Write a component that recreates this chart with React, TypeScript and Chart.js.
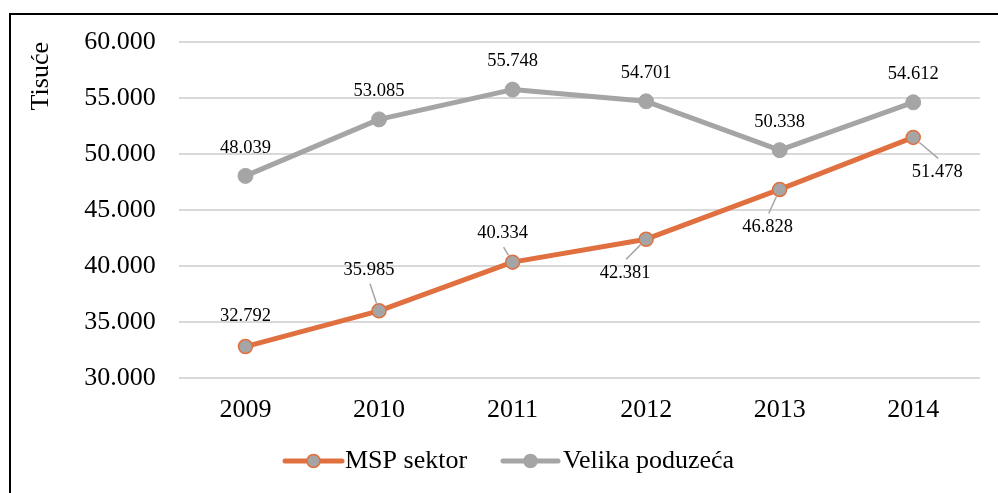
import React, { useEffect, useRef } from "react";
import { Chart, registerables } from "chart.js";

Chart.register(...registerables);

// ---- data ----
const categories = ["2009", "2010", "2011", "2012", "2013", "2014"];
const mspValues = [32792, 35985, 40334, 42381, 46828, 51478];
const velikaValues = [48039, 53085, 55748, 54701, 50338, 54612];
const yTickValues = [30000, 35000, 40000, 45000, 50000, 55000, 60000];
const seriesNames = ["MSP sektor", "Velika poduzeća"];
const axisTitle = "Tisuće";

// ---- label placement (style, not data) ----
// [dx, dy, hasLeader] of label centre relative to its point
const mspLabelPlacement: [number, number, boolean][] = [
  [0, -30, false],
  [-10, -41, true],
  [-10, -29, true],
  [-21, 34, true],
  [-12, 38, true],
  [24, 35, true],
];
const velikaLabelDy = -28;

const ORANGE = "#E0703F";
const GRAY = "#A5A5A5";
const FONT = "'Liberation Serif', 'Times New Roman', serif";

const fmt = (v: number) =>
  String(Math.round(v)).replace(/\B(?=(\d{3})+(?!\d))/g, ".");

const labelPlugin = {
  id: "dataLabelsCustom",
  afterDatasetsDraw(chart: any) {
    const ctx = chart.ctx;
    ctx.save();
    ctx.font = `18.5px ${FONT}`;
    ctx.fillStyle = "#000";
    ctx.textAlign = "center";
    ctx.textBaseline = "middle";
    const m0 = chart.getDatasetMeta(0);
    m0.data.forEach((pt: any, i: number) => {
      const [dx, dy, leader] = mspLabelPlacement[i];
      const lx = pt.x + dx;
      const ly = pt.y + dy;
      if (leader) {
        const sx = lx + 1;
        const sy = ly + (dy < 0 ? 14 : -14);
        const vx = pt.x - sx;
        const vy = pt.y - sy;
        const len = Math.hypot(vx, vy);
        const ex = pt.x - (vx / len) * 8;
        const ey = pt.y - (vy / len) * 8;
        ctx.strokeStyle = GRAY;
        ctx.lineWidth = 1.5;
        ctx.beginPath();
        ctx.moveTo(sx, sy);
        ctx.lineTo(ex, ey);
        ctx.stroke();
      }
      ctx.fillText(fmt(mspValues[i]), lx, ly);
    });
    const m1 = chart.getDatasetMeta(1);
    m1.data.forEach((pt: any, i: number) => {
      ctx.fillText(fmt(velikaValues[i]), pt.x, pt.y + velikaLabelDy);
    });
    ctx.restore();
  },
};

const legendPlugin = {
  id: "legendCustom",
  afterDraw(chart: any) {
    const ctx = chart.ctx;
    ctx.save();
    const y = 461;
    const items = [
      { name: seriesNames[0], x0: 285, x1: 342, line: ORANGE, border: ORANGE, tx: 345 },
      { name: seriesNames[1], x0: 503, x1: 558, line: GRAY, border: GRAY, tx: 563 },
    ];
    items.forEach((it) => {
      ctx.strokeStyle = it.line;
      ctx.lineWidth = 5;
      ctx.lineCap = "round";
      ctx.beginPath();
      ctx.moveTo(it.x0, y);
      ctx.lineTo(it.x1, y);
      ctx.stroke();
      ctx.beginPath();
      ctx.arc((it.x0 + it.x1) / 2, y, 6.5, 0, Math.PI * 2);
      ctx.fillStyle = GRAY;
      ctx.fill();
      ctx.lineWidth = 1.5;
      ctx.strokeStyle = it.border;
      ctx.stroke();
      ctx.font = `26px ${FONT}`;
      ctx.fillStyle = "#000";
      ctx.textAlign = "left";
      ctx.textBaseline = "middle";
      ctx.fillText(it.name, it.tx, y);
    });
    ctx.restore();
  },
};

export default function App() {
  const ref = useRef<HTMLCanvasElement | null>(null);

  useEffect(() => {
    if (!ref.current) return;
    const chart = new Chart(ref.current, {
      type: "line",
      data: {
        labels: categories,
        datasets: [
          {
            label: seriesNames[0],
            data: mspValues,
            borderColor: ORANGE,
            backgroundColor: ORANGE,
            borderWidth: 5,
            borderJoinStyle: "round",
            borderCapStyle: "round",
            pointRadius: 7,
            pointBackgroundColor: GRAY,
            pointBorderColor: ORANGE,
            pointBorderWidth: 1.5,
            tension: 0,
          },
          {
            label: seriesNames[1],
            data: velikaValues,
            borderColor: GRAY,
            backgroundColor: GRAY,
            borderWidth: 5,
            borderJoinStyle: "round",
            borderCapStyle: "round",
            pointRadius: 7.5,
            pointBackgroundColor: GRAY,
            pointBorderColor: GRAY,
            pointBorderWidth: 1,
            tension: 0,
          },
        ],
      },
      options: {
        responsive: false,
        animation: false,
        devicePixelRatio: 1,
        layout: { padding: { left: 10, top: 42, right: 18, bottom: 50 } },
        plugins: {
          legend: { display: false },
          tooltip: { enabled: false },
        },
        scales: {
          x: {
            type: "category",
            offset: true,
            grid: { display: false, drawTicks: false },
            border: { display: false },
            ticks: {
              color: "#000",
              font: { family: FONT, size: 26 },
              padding: 17,
              maxRotation: 0,
            },
          },
          y: {
            min: yTickValues[0],
            max: yTickValues[yTickValues.length - 1],
            afterBuildTicks: (scale: any) => {
              scale.ticks = yTickValues.map((v) => ({ value: v }));
            },
            grid: { color: "#D9D9D9", lineWidth: 2, drawTicks: false },
            border: { display: false },
            ticks: {
              color: "#000",
              font: { family: FONT, size: 26 },
              padding: 23,
              callback: (v: any) => fmt(Number(v)),
            },
            title: {
              display: true,
              text: axisTitle,
              align: "end",
              color: "#000",
              font: { family: FONT, size: 26 },
              padding: { top: 16, bottom: 4 },
            },
          },
        },
      },
      plugins: [labelPlugin, legendPlugin],
    } as any);
    return () => chart.destroy();
  }, []);

  return (
    <div
      style={{
        position: "fixed",
        left: 0,
        top: 0,
        width: 998,
        height: 493,
        overflow: "hidden",
        background: "#fff",
      }}
    >
      <canvas
        ref={ref}
        width={998}
        height={493}
        style={{ position: "absolute", left: 0, top: 0, width: 998, height: 493 }}
      />
      <div
        style={{
          position: "absolute",
          left: 9,
          top: 13,
          width: 1200,
          height: 700,
          border: "2px solid #000",
          pointerEvents: "none",
        }}
      />
    </div>
  );
}
